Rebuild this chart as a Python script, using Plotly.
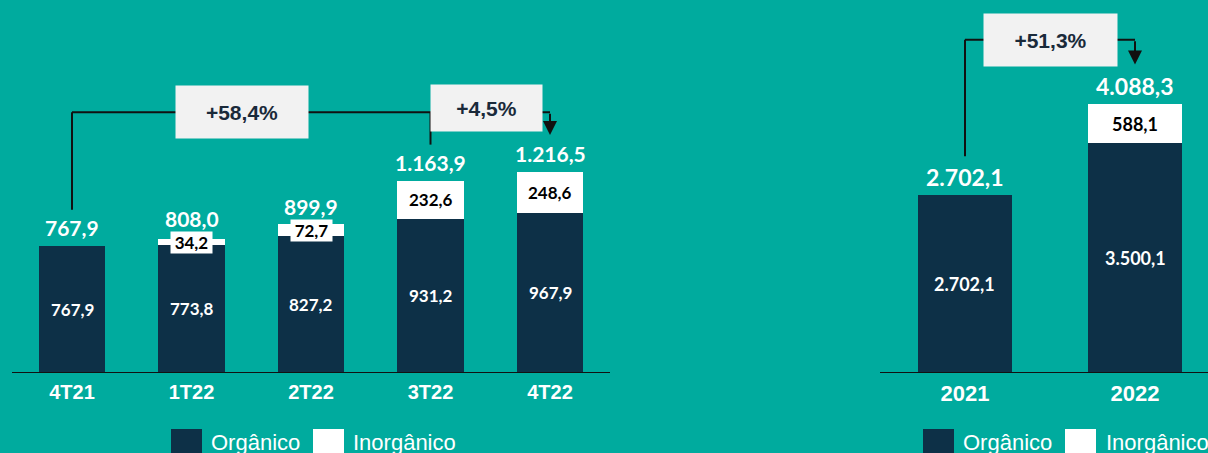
import plotly.graph_objects as go

# ---------------- data ----------------
quarters = ["4T21", "1T22", "2T22", "3T22", "4T22"]
q_organic = [767.9, 773.8, 827.2, 931.2, 967.9]
q_inorganic = [0.0, 34.2, 72.7, 232.6, 248.6]
q_total = [767.9, 808.0, 899.9, 1163.9, 1216.5]

years = ["2021", "2022"]
y_organic = [2702.1, 3500.1]
y_inorganic = [0.0, 588.1]
y_total = [2702.1, 4088.3]

legend_labels = ["Orgânico", "Inorgânico"]

# ---------------- style ----------------
W, H = 1208, 453
BG = "#00AB9E"
NAVY = "#0D3047"
WHITE = "#FFFFFF"
BOX = "#F2F2F2"
LINE = "#111111"
PCT = "#1A2A3A"
NUMFONT = "Lato, Open Sans, sans-serif"
ARIAL = "Arial, Liberation Sans, sans-serif"

BASE_PX = 372.2
YDOM = [(H - BASE_PX) / H, 1.0]
L_RANGE = [0, BASE_PX / 0.1646]
R_RANGE = [0, BASE_PX / 0.0655]
L_PXU = L_RANGE[1] / BASE_PX   # data units per px
R_PXU = R_RANGE[1] / BASE_PX


def br(v):
    s = f"{v:,.1f}"
    return s.replace(",", "X").replace(".", ",").replace("X", ".")


def pct(a, b):
    return "+" + f"{(b / a - 1) * 100:.1f}".replace(".", ",") + "%"


fig = go.Figure()

fig.add_trace(go.Bar(x=quarters, y=q_organic, name=legend_labels[0], marker_color=NAVY,
                     marker_line_width=0, width=0.556, xaxis="x", yaxis="y", hoverinfo="skip"))
fig.add_trace(go.Bar(x=quarters, y=q_inorganic, name=legend_labels[1], marker_color=WHITE,
                     marker_line_width=0, width=0.556, xaxis="x", yaxis="y", hoverinfo="skip"))
fig.add_trace(go.Bar(x=years, y=y_organic, name=legend_labels[0], marker_color=NAVY,
                     marker_line_width=0, width=0.553, xaxis="x2", yaxis="y2", hoverinfo="skip"))
fig.add_trace(go.Bar(x=years, y=y_inorganic, name=legend_labels[1], marker_color=WHITE,
                     marker_line_width=0, width=0.553, xaxis="x2", yaxis="y2", hoverinfo="skip"))

ann = []
shapes = []


def labels(cats, org, inorg, tot, xr, yr, pxu, tot_size, in_size):
    for k, (o, i, t) in enumerate(zip(org, inorg, tot)):
        ann.append(dict(x=k, y=o / 2, xref=xr, yref=yr, text=br(o), showarrow=False,
                        font=dict(family=NUMFONT, size=in_size, color=WHITE, weight="bold"),
                        yanchor="middle"))
        small = 0 < i and i / pxu < 20
        if i > 0:
            d = dict(x=k, y=o + i / 2, xref=xr, yref=yr, text=br(i), showarrow=False,
                     font=dict(family=NUMFONT, size=in_size, color="#000000", weight="bold"),
                     yanchor="middle")
            if small:
                d.update(bgcolor=WHITE, width=37, height=17, borderpad=2)
            ann.append(d)
        shift = 21 if (small and i / pxu < 8) else 18
        ann.append(dict(x=k, y=t, xref=xr, yref=yr, text=br(t), showarrow=False,
                        font=dict(family=NUMFONT, size=tot_size, color=WHITE, weight="bold"),
                        yanchor="middle", yshift=shift))


labels(quarters, q_organic, q_inorganic, q_total, "x", "y", L_PXU, 21, 17)
labels(years, y_organic, y_inorganic, y_total, "x2", "y2", R_PXU, 23, 18)

# ---- left bracket ----
lv = max(q_total) + (171.7 - 112) * L_PXU
lw = dict(color=LINE, width=2)
shapes.append(dict(type="line", xref="x", yref="y", x0=0, x1=0,
                   y0=q_total[0] + 36 * L_PXU, y1=lv, line=lw))
shapes.append(dict(type="line", xref="x", yref="y", x0=0, x1=4, y0=lv, y1=lv, line=lw))
shapes.append(dict(type="line", xref="x", yref="y", x0=3, x1=3,
                   y0=q_total[3] + 36 * L_PXU, y1=lv, line=lw))
ann.append(dict(x=4, y=q_total[4] + 37 * L_PXU, ax=4, ay=lv, xref="x", yref="y",
                axref="x", ayref="y", text="", showarrow=True, arrowhead=2,
                arrowsize=1.4, arrowwidth=2, arrowcolor=LINE))
ann.append(dict(x=1.42, y=lv, xref="x", yref="y", text=pct(q_total[0], q_total[4]),
                showarrow=False, bgcolor=BOX, width=132, height=52, borderpad=0,
                font=dict(family=ARIAL, size=21, color=PCT, weight="bold"),
                xanchor="center", yanchor="middle"))
ann.append(dict(x=3 + 55.5 / 119.5, y=lv + 4 * L_PXU, xref="x", yref="y",
                text=pct(q_total[3], q_total[4]),
                showarrow=False, bgcolor=BOX, width=111, height=46, borderpad=0,
                font=dict(family=ARIAL, size=21, color=PCT, weight="bold"),
                xanchor="center", yanchor="middle"))

# ---- right bracket ----
rv = max(y_total) + (104.3 - 39.7) * R_PXU
shapes.append(dict(type="line", xref="x2", yref="y2", x0=0, x1=0,
                   y0=y_total[0] + 39 * R_PXU, y1=rv, line=lw))
shapes.append(dict(type="line", xref="x2", yref="y2", x0=0, x1=1, y0=rv, y1=rv, line=lw))
ann.append(dict(x=1, y=y_total[1] + 40 * R_PXU, ax=1, ay=rv, xref="x2", yref="y2",
                axref="x2", ayref="y2", text="", showarrow=True, arrowhead=2,
                arrowsize=1.4, arrowwidth=2, arrowcolor=LINE))
ann.append(dict(x=0.5, y=rv, xref="x2", yref="y2", text=pct(y_total[0], y_total[1]),
                showarrow=False, bgcolor=BOX, width=133, height=52, borderpad=0,
                font=dict(family=ARIAL, size=21, color=PCT, weight="bold"),
                xanchor="center", yanchor="middle"))


# ---- legends (drawn) ----
def legend(x_sq1, x_t1, x_sq2, x_t2):
    for xs, col in ((x_sq1, NAVY), (x_sq2, WHITE)):
        shapes.append(dict(type="rect", xref="paper", yref="paper", x0=xs / W, x1=(xs + 31) / W,
                           y0=(H - 429) / H, y1=-0.05, fillcolor=col, line_width=0))
    for xt, txt in ((x_t1, legend_labels[0]), (x_t2, legend_labels[1])):
        ann.append(dict(x=xt / W, y=(H - 442) / H, xref="paper", yref="paper", text=txt,
                        showarrow=False, xanchor="left", yanchor="middle",
                        font=dict(family=ARIAL, size=22, color=WHITE)))


legend(171, 209, 313, 351)
legend(923, 961, 1065, 1104)

axis_common = dict(showline=True, linecolor=LINE, linewidth=1, ticks="", showgrid=False,
                   zeroline=False, fixedrange=True, automargin=False, type="category")
fig.update_layout(
    width=W, height=H, margin=dict(l=0, r=0, t=0, b=0),
    paper_bgcolor=BG, plot_bgcolor=BG, barmode="stack", showlegend=False,
    xaxis=dict(domain=[12.25 / W, 609.75 / W], range=[-0.5, 4.5], anchor="y",
               tickfont=dict(family=ARIAL, size=20, color=WHITE, weight="bold"),
               ticklabelstandoff=2, **axis_common),
    yaxis=dict(domain=YDOM, range=L_RANGE, visible=False, anchor="x"),
    xaxis2=dict(domain=[880 / W, 1.0], range=[-0.5, 1.5 - 12 / 170], anchor="y2",
                tickfont=dict(family=ARIAL, size=22, color=WHITE, weight="bold"),
                ticklabelstandoff=1, **axis_common),
    yaxis2=dict(domain=YDOM, range=R_RANGE, visible=False, anchor="x2"),
    annotations=ann, shapes=shapes,
)

fig.write_html("out.html")
